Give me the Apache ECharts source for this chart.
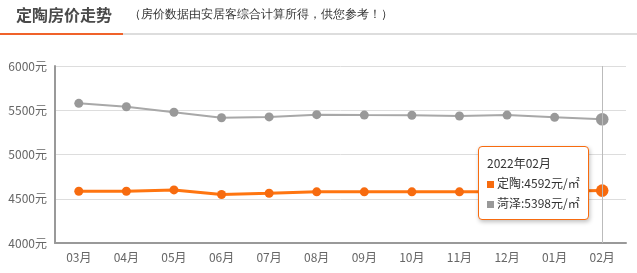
<!DOCTYPE html>
<html><head><meta charset="utf-8">
<script src="https://cdn.jsdelivr.net/npm/echarts@6/dist/echarts.min.js"></script>
<style>html,body{margin:0;padding:0;background:#fff;}#c{width:637px;height:273px;}</style>
</head><body><div id="c"></div>
<script>
var categories = ['03月','04月','05月','06月','07月','08月','09月','10月','11月','12月','01月','02月'];
var fullLabels = ['2021年03月','2021年04月','2021年05月','2021年06月','2021年07月','2021年08月','2021年09月','2021年10月','2021年11月','2021年12月','2022年01月','2022年02月'];
var dingtao = [4585, 4585, 4600, 4548, 4562, 4578, 4578, 4578, 4578, 4580, 4585, 4592];
var heze = [5578, 5540, 5478, 5415, 5425, 5450, 5445, 5443, 5435, 5445, 5420, 5398];
var yTicks = [4000, 4500, 5000, 5500, 6000];

var chart = echarts.init(document.getElementById('c'));
var ORANGE = '#f76b0f', GRAY = '#999999';
chart.setOption({
  animation: false,
  textStyle: {fontFamily: '"Noto Sans CJK SC", "Noto Sans", sans-serif'},
  title: {
    text: '定陶房价走势', left: 11, top: 2,
    textStyle: {fontSize: 16, fontWeight: 'bold', color: '#4a4a4a', fontFamily: '"Noto Sans CJK SC", sans-serif'}
  },
  graphic: [
    {type: 'text', left: 129, top: 9, style: {text: '（房价数据由安居客综合计算所得，供您参考！）', fontSize: 12, fill: '#333', font: '12px "Noto Sans CJK SC", sans-serif'}},
    {type: 'rect', left: 0, top: 33, shape: {width: 637, height: 2}, style: {fill: '#dddddd'}},
    {type: 'rect', left: 0, top: 33, shape: {width: 123, height: 2}, style: {fill: '#f0622a'}}
  ],
  grid: {left: 55, right: 11, top: 66, bottom: 30},
  tooltip: {
    trigger: 'axis', triggerOn: 'none', alwaysShowContent: true,
    backgroundColor: '#fff', borderColor: ORANGE, borderWidth: 1, borderRadius: 4, padding: [6, 8],
    extraCssText: 'box-shadow: 1px 2px 4px rgba(0,0,0,0.25);',
    textStyle: {color: '#333', fontSize: 12},
    position: function () { return [478, 146]; },
    axisPointer: {type: 'line', lineStyle: {color: '#bbb', width: 1, type: 'solid'}},
    formatter: function (ps) {
      var s = fullLabels[ps[0].dataIndex];
      ps.forEach(function (p) {
        s += '<br/><span style="display:inline-block;width:7px;height:7px;margin-right:3px;background:' + p.color + ';"></span>' + p.seriesName + ':' + p.value + '元/㎡';
      });
      return '<div style="line-height:20px">' + s + '</div>';
    }
  },
  xAxis: {
    type: 'category', data: categories, boundaryGap: true,
    axisLine: {lineStyle: {color: '#999', width: 2}},
    axisTick: {alignWithLabel: true, length: 4, lineStyle: {color: '#bbb'}},
    axisLabel: {color: '#666', fontSize: 12, margin: 8}
  },
  yAxis: {
    type: 'value', min: 4000, max: 6000, interval: 500,
    axisLine: {show: true, lineStyle: {color: '#999', width: 2}},
    axisTick: {show: false},
    axisLabel: {color: '#666', fontSize: 12, margin: 8, formatter: function (v) { return v + '元'; }},
    splitLine: {lineStyle: {color: '#ddd'}}
  },
  series: [
    {name: '定陶', type: 'line', data: dingtao, color: ORANGE, symbol: 'circle', symbolSize: 9,
      lineStyle: {width: 3, color: ORANGE}, itemStyle: {color: ORANGE, borderWidth: 0},
      emphasis: {scale: 1.4, itemStyle: {color: ORANGE, borderWidth: 0}}},
    {name: '菏泽', type: 'line', data: heze, color: GRAY, symbol: 'circle', symbolSize: 9,
      lineStyle: {width: 2, color: GRAY}, itemStyle: {color: GRAY, borderWidth: 0},
      emphasis: {scale: 1.4, itemStyle: {color: GRAY, borderWidth: 0}}}
  ]
});
chart.dispatchAction({type: 'showTip', seriesIndex: 0, dataIndex: 11});
</script></body></html>
